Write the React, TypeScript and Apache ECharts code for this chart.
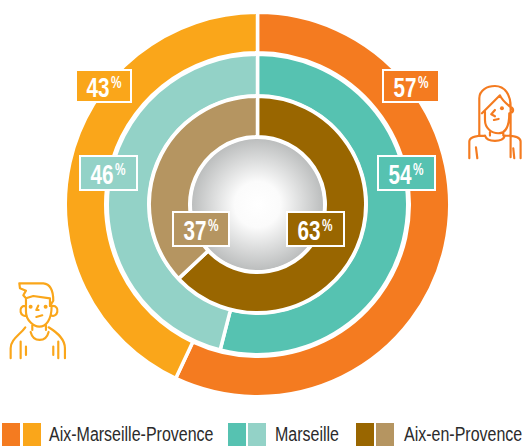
import React, { useEffect, useRef } from "react";
import * as echarts from "echarts";

const regions = ["Aix-Marseille-Provence", "Marseille", "Aix-en-Provence"];
const women = [57, 54, 63];
const men = [43, 46, 37];
const womenColors = ["#f47b20", "#56c2b1", "#996600"];
const menColors = ["#faa61a", "#93d2c7", "#b59561"];

// layout constants
const radii = [[151.75, 192.25], [108.75, 150.25], [67.75, 108.25]];
const womenBoxes = [[383, 70, 56, 32], [378, 156, 57, 34], [287, 212, 57, 34]];
const menBoxes = [[76, 70, 55, 32], [80, 156, 57, 34], [173, 212, 56, 34]];
const legendSwatchX = [[2, 23], [228, 248], [356, 376]];
const legendTextX = [49, 275, 404];
const centerXY = [257.5, 204.5];

const womanPath =
  "M88 170V85C88 60 112 48 135 48C165 48 182 75 182 110V262M96 130L150 76C155 88 168 100 180 110M105 125V150C105 175 125 190 145 190C165 190 178 170 178 130M183 112C192 115 192 128 180 130M135 120L124 133L135 139M132 150L146 147M120 186V197M160 186V197M105 197C112 218 158 218 165 197M58 265V215C58 202 78 197 105 197M165 197C195 197 212 202 212 215V265M82 265L78 232M190 235L193 265M88 170V198";
const manPath =
  "M58 40H130C150 42 160 60 160 92L150 108V85L100 78L78 85L70 76L78 62L60 55ZM78 85V125C78 150 100 170 118 170C138 170 155 150 155 108M78 108C64 106 60 118 62 126C64 136 74 140 80 136M155 108C170 106 174 118 172 126C170 136 160 140 154 136M115 107L109 120H116M109 141L127 136M97 165V180M138 165V180M32 265V235C32 208 60 195 76 172M92 186C100 218 138 218 146 186M146 172C175 190 195 208 195 235V265M78 230V255M160 230V255M62 215V265M175 215V265";
const dotsPath = "M150 115a6 6 0 1 0 12 0a6 6 0 1 0 -12 0Z";
const manDotsPath = "M86 110a6 6 0 1 0 12 0a6 6 0 1 0 -12 0ZM131 110a6 6 0 1 0 12 0a6 6 0 1 0 -12 0Z";
const g = echarts.graphic as any;
g.registerShape("woman", g.extendPath(womanPath, {}));
g.registerShape("man", g.extendPath(manPath, {}));
g.registerShape("wdots", g.extendPath(dotsPath, {}));
g.registerShape("mdots", g.extendPath(manDotsPath, {}));

const font = "'Liberation Sans', sans-serif";
const textScale = 0.74;

function ring(i: number) {
  return {
    type: "pie",
    silent: true,
    center: centerXY,
    radius: radii[i],
    startAngle: 90,
    clockwise: true,
    label: { show: false },
    labelLine: { show: false },
    itemStyle: { borderColor: "#fff", borderWidth: 3.5 },
    z: 3,
    data: [
      { name: "F", value: women[i], itemStyle: { color: womenColors[i] } },
      { name: "H", value: men[i], itemStyle: { color: menColors[i] } },
    ],
  };
}

function badge(value: number, box: number[], color: string) {
  const [x, y, w, h] = box;
  const numX = 10.5;
  return {
    type: "group", x, y, z: 100,
    children: [
      { type: "rect", z: 100, shape: { x: 0, y: 0, width: w, height: h }, style: { fill: color, stroke: "#fff", lineWidth: 2 } },
      {
        type: "text", z: 101, x: numX, y: h / 2 + 1, scaleX: textScale,
        style: { text: String(value), fontFamily: font, fontWeight: "bold", fontSize: 28, fill: "#fff", align: "left", verticalAlign: "middle" },
      },
      {
        type: "text", z: 101, x: numX + 24.5, y: h / 2 - 4, scaleX: textScale,
        style: { text: "%", fontFamily: font, fontWeight: "bold", fontSize: 16, fill: "#fff", align: "left", verticalAlign: "middle" },
      },
    ],
  };
}

export default function App() {
  const ref = useRef<HTMLDivElement>(null);
  useEffect(() => {
    const chart = echarts.init(ref.current!, undefined, { renderer: "svg" });
    const legend: any[] = [];
    regions.forEach((r, i) => {
      legendSwatchX[i].forEach((x, j) => {
        legend.push({ type: "rect", shape: { x, y: 423, width: 18, height: 23 }, style: { fill: j === 0 ? womenColors[i] : menColors[i] } });
      });
      legend.push({
        type: "text", x: legendTextX[i], y: 434.5, scaleX: 0.8,
        style: { text: r, fontFamily: font, fontSize: 20, fill: "#2b2b2b", verticalAlign: "middle" },
      });
    });
    const iconStyle = (c: string) => ({ fill: "none", stroke: c, lineWidth: 6.5, lineCap: "round", lineJoin: "round" });
    chart.setOption({
      animation: false,
      backgroundColor: "#fff",
      series: [
        {
          type: "pie", silent: true, center: centerXY, radius: [0, 65.5], z: 1,
          label: { show: false }, labelLine: { show: false },
          data: [{
            value: 1,
            itemStyle: {
              color: new echarts.graphic.RadialGradient(0.5, 0.5, 0.5, [
                { offset: 0, color: "#ffffff" },
                { offset: 0.35, color: "#fbfbfb" },
                { offset: 1, color: "#bcbebe" },
              ]),
            },
          }],
        },
        ring(0), ring(1), ring(2),
      ],
      graphic: [
        ...legend,
        ...women.map((v, i) => badge(v, womenBoxes[i], womenColors[i])),
        ...men.map((v, i) => badge(v, menBoxes[i], menColors[i])),
        { type: "woman", x: 450, y: 70, scaleX: 1 / 3, scaleY: 1 / 3, style: iconStyle(womenColors[0]) },
        { type: "wdots", x: 450, y: 70, scaleX: 1 / 3, scaleY: 1 / 3, style: { fill: womenColors[0] } },
        { type: "man", x: 0, y: 270, scaleX: 1 / 3, scaleY: 1 / 3, style: iconStyle(menColors[0]) },
        { type: "mdots", x: 0, y: 270, scaleX: 1 / 3, scaleY: 1 / 3, style: { fill: menColors[0] } },
      ],
    });
    return () => chart.dispose();
  }, []);
  return <div ref={ref} style={{ position: "absolute", left: 0, top: 0, width: 524, height: 446 }} />;
}
